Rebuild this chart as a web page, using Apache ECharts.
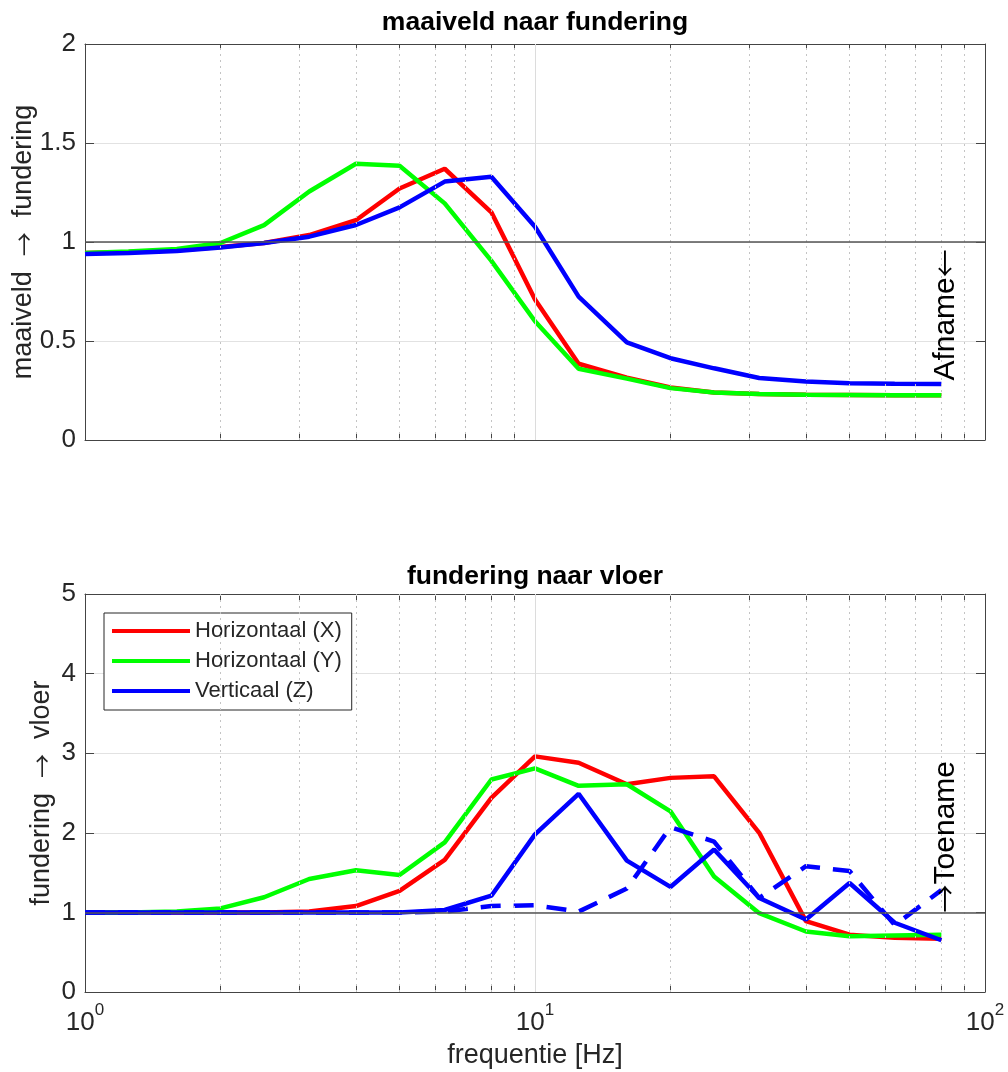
<!DOCTYPE html>
<html><head><meta charset="utf-8">
<script src="https://cdn.jsdelivr.net/npm/echarts@6/dist/echarts.min.js"></script>
<style>html,body{margin:0;padding:0;background:#fff}#c{width:1008px;height:1072px}</style>
</head><body><div id="c"></div>
<script>
// ---- data (third-octave band centre frequencies, Hz) ----
const freqs = [1,1.25,1.6,2,2.5,3.15,4,5,6.3,8,10,12.5,16,20,25,31.5,40,50,63,80];
// top: maaiveld -> fundering
const topX = [0.945,0.95,0.958,0.975,0.995,1.035,1.11,1.27,1.37,1.15,0.71,0.385,0.315,0.265,0.24,0.232,0.228,0.227,0.226,0.226];
const topY = [0.945,0.952,0.965,0.995,1.085,1.255,1.395,1.385,1.195,0.905,0.60,0.36,0.31,0.262,0.24,0.232,0.228,0.227,0.226,0.226];
const topZ = [0.94,0.945,0.955,0.972,0.995,1.027,1.086,1.175,1.305,1.33,1.077,0.724,0.493,0.413,0.362,0.313,0.295,0.287,0.284,0.283];
// bottom: fundering -> vloer
const botX = [1,1,1,1,1,1.01,1.08,1.27,1.66,2.44,2.96,2.88,2.61,2.69,2.71,2.0,0.89,0.72,0.68,0.67];
const botY = [1,1,1.01,1.05,1.19,1.42,1.53,1.47,1.88,2.67,2.81,2.59,2.61,2.27,1.45,0.99,0.76,0.70,0.71,0.72];
const botZ = [1,1,1,1,1,1,1,1,1.03,1.21,1.98,2.49,1.65,1.32,1.79,1.18,0.91,1.37,0.87,0.65];
const botZd = [1,1,1,1,1,1,1,1,1.01,1.08,1.09,1.01,1.3,2.07,1.89,1.18,1.58,1.52,0.84,1.28];
const seriesNames = ['Horizontaal (X)','Horizontaal (Y)','Verticaal (Z)'];
const titles = ['maaiveld naar fundering','fundering naar vloer'];
const yNameParts = [['maaiveld','fundering'],['fundering','vloer']];
const xName = 'frequentie [Hz]';
const xMajor = [1,10,100];
const xMinor = [2,3,4,5,6,7,8,9,20,30,40,50,60,70,80,90];
const xTickVals = [1,2,3,4,5,6,7,8,9,10,20,30,40,50,60,70,80,90,100];
const refLevel = 1;
const noteTop = {word:'Afname', arrow:'\u2190', f:80, v:0.3};
const noteBot = {word:'Toename', arrow:'\u2192', f:80, v:1.0};

const FONT = '"Liberation Sans", Arial, Helvetica, sans-serif';
const AFONT = '"Noto Sans CJK SC", "DejaVu Sans", sans-serif';
const AX = '#444';
const TXT = '#262626';
const colors = ['#ff0000','#00ff00','#0000ff'];

function pairs(a){ return freqs.map((f,i)=>[f,a[i]]); }

function xAxisDef(grid, pos, withLabels){
  return {
    type:'log', logBase:10, gridIndex:grid, position:pos, min:1, max:100,
    axisLine:{show:true, onZero:false, lineStyle:{color:AX, width:1}},
    axisTick:{show:true, inside:true, length:6, customValues:xTickVals, lineStyle:{color:AX}},
    axisLabel: withLabels ? {
      show:true, customValues:xMajor, margin:10,
      formatter: v => '{b|10}{s|' + Math.round(Math.log10(v)) + '}',
      rich:{
        b:{fontFamily:FONT, fontSize:26, color:TXT, lineHeight:34, verticalAlign:'bottom'},
        s:{fontFamily:FONT, fontSize:17, color:TXT, lineHeight:18, verticalAlign:'top'}
      }
    } : {show:false},
    name: withLabels ? xName : '',
    nameLocation:'middle', nameGap:50, nameMoveOverlap:false,
    nameTextStyle:{fontFamily:FONT, fontSize:27, color:TXT},
    splitLine:{show:false}, minorTick:{show:false}, minorSplitLine:{show:false}
  };
}
function yAxisDef(grid, pos, max, interval, parts, gap){
  const main = pos === 'left';
  return {
    type:'value', gridIndex:grid, position:pos, min:0, max:max, interval:interval,
    axisLine:{show:true, onZero:false, lineStyle:{color:AX, width:1}},
    axisTick:{show:true, inside:true, length:9, lineStyle:{color:AX}},
    axisLabel: main ? {show:true, fontFamily:FONT, fontSize:26, color:TXT, margin:9} : {show:false},
    splitLine:{show:main, lineStyle:{color:'#e2e2e2', width:1}},
    name: main ? '{n|' + parts[0] + '  }{a|\u2192}{n|  ' + parts[1] + '}' : '',
    nameLocation:'middle', nameRotate:90, nameGap:gap || 40, nameMoveOverlap:false,
    nameTextStyle:{fontFamily:FONT, fontSize:27, color:TXT,
      rich:{n:{fontFamily:FONT, fontSize:27, color:TXT}, a:{fontFamily:AFONT, fontSize:24, color:TXT}}}
  };
}
function gridLinesSeries(xi, yi){
  return {
    type:'line', name:'grid'+xi, xAxisIndex:xi, yAxisIndex:yi, data:[], z:1, silent:true,
    markLine:{
      symbol:'none', silent:true, animation:false, label:{show:false},
      data: xMinor.map(v => ({xAxis:v, lineStyle:{type:[2,4], color:'#c4c4c4', width:1}}))
        .concat([{xAxis:10, lineStyle:{type:'solid', color:'#dcdcdc', width:1}}])
    }
  };
}
function refSeries(xi, yi){
  return {
    type:'line', name:'ref'+xi, xAxisIndex:xi, yAxisIndex:yi, data:[], z:6, silent:true,
    markLine:{symbol:'none', silent:true, animation:false, label:{show:false},
      data:[{yAxis:refLevel, lineStyle:{type:'solid', color:'#555', width:1.6}}]}
  };
}
function lineSeries(name, xi, yi, arr, color, dashed){
  return {
    type:'line', name:name, xAxisIndex:xi, yAxisIndex:yi, data:pairs(arr),
    showSymbol:false, symbol:'none', z:3, color:color,
    lineStyle:{color:color, width:4.5, type: dashed ? [20,13] : 'solid'}
  };
}

const chart = echarts.init(document.getElementById('c'));
chart.setOption({
  animation:false,
  backgroundColor:'#fff',
  grid:[
    {left:85, right:23, top:44, height:396, outerBoundsMode:'none', containLabel:false},
    {left:85, right:23, top:594, height:398, outerBoundsMode:'none', containLabel:false}
  ],
  xAxis:[xAxisDef(0,'bottom',false), xAxisDef(0,'top',false), xAxisDef(1,'bottom',true), xAxisDef(1,'top',false)],
  yAxis:[yAxisDef(0,'left',2,0.5,yNameParts[0],48), yAxisDef(0,'right',2,0.5,null), yAxisDef(1,'left',5,1,yNameParts[1],30), yAxisDef(1,'right',5,1,null)],
  legend:{
    orient:'vertical', left:104, top:613, data:seriesNames, selectedMode:false,
    icon:'rect', itemWidth:78, itemHeight:4, itemGap:6, padding:[6,10,7,8],
    borderColor:TXT, borderWidth:1, backgroundColor:'#fff',
    textStyle:{fontFamily:FONT, fontSize:22, color:TXT, lineHeight:24}
  },
  series:[
    gridLinesSeries(0,0), gridLinesSeries(2,2),
    lineSeries(seriesNames[0],0,0,topX,colors[0]),
    lineSeries(seriesNames[1],0,0,topY,colors[1]),
    lineSeries(seriesNames[2],0,0,topZ,colors[2]),
    lineSeries(seriesNames[0],2,2,botX,colors[0]),
    lineSeries(seriesNames[1],2,2,botY,colors[1]),
    lineSeries(seriesNames[2],2,2,botZ,colors[2]),
    lineSeries('Verticaal (Z) alt',2,2,botZd,colors[2],true),
    refSeries(0,0), refSeries(2,2)
  ]
});

const g0 = chart.convertToPixel({xAxisIndex:0, yAxisIndex:0}, [1,2]);
const g0b = chart.convertToPixel({xAxisIndex:0, yAxisIndex:0}, [100,2]);
const g1 = chart.convertToPixel({xAxisIndex:2, yAxisIndex:2}, [1,5]);
const g1b = chart.convertToPixel({xAxisIndex:2, yAxisIndex:2}, [100,5]);
const pA = chart.convertToPixel({xAxisIndex:0, yAxisIndex:0}, [noteTop.f, noteTop.v]);
const pT = chart.convertToPixel({xAxisIndex:2, yAxisIndex:2}, [noteBot.f, noteBot.v]);
const noteRich = {t:{fontFamily:FONT, fontSize:30, fill:'#000'}, a:{fontFamily:AFONT, fontSize:28, fill:'#000'}};
chart.setOption({
  graphic:[
    {type:'text', x:(g0[0]+g0b[0])/2, y:g0[1]-21, z:10,
     style:{text:titles[0], font:'bold 26.5px ' + FONT, fill:'#000', align:'center', verticalAlign:'middle'}},
    {type:'text', x:(g1[0]+g1b[0])/2, y:g1[1]-17, z:10,
     style:{text:titles[1], font:'bold 26.5px ' + FONT, fill:'#000', align:'center', verticalAlign:'middle'}},
    {type:'text', x:pA[0]+4, y:pA[1], rotation:Math.PI/2, z:10,
     style:{text:'{t|' + noteTop.word + '}{a|' + noteTop.arrow + '}', rich:noteRich, align:'left', verticalAlign:'middle'}},
    {type:'text', x:pT[0]+4, y:pT[1], rotation:Math.PI/2, z:10,
     style:{text:'{a|' + noteBot.arrow + '}{t|' + noteBot.word + '}', rich:noteRich, align:'left', verticalAlign:'middle'}}
  ]
});
</script>
</body></html>
